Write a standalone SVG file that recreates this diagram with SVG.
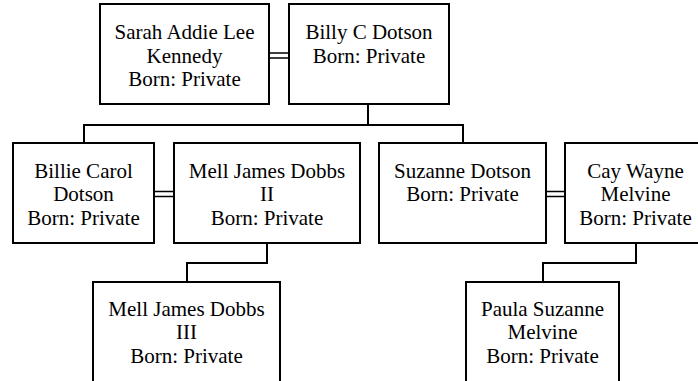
<svg xmlns="http://www.w3.org/2000/svg" width="698" height="381" viewBox="0 0 698 381">
<style>
.box{fill:#fff;stroke:#000;stroke-width:2}
.c{fill:none;stroke:#000;stroke-width:2}
.m{fill:none;stroke:#000;stroke-width:1.5}
text{font-family:"Liberation Serif","Times New Roman",serif;font-size:21px;fill:#000;text-anchor:middle}
</style>
<rect width="698" height="381" fill="#fff"/>
<g id="connectors">
<path class="m" d="M269 53H289M269 58H289"/>
<path class="m" d="M154 191.5H174M154 196.5H174"/>
<path class="m" d="M546 191.5H565M546 196.5H565"/>
<path class="c" d="M368 104V125M84 143V125H463V143"/>
<path class="c" d="M267 243V263H187V282"/>
<path class="c" d="M636 243V263H543V282"/>
</g>
<g id="sarah">
<rect class="box" x="100" y="4" width="169" height="100"/>
<text x="184.5" y="39">Sarah Addie Lee</text>
<text x="184.5" y="62.5">Kennedy</text>
<text x="184.5" y="86">Born: Private</text>
</g>
<g id="billy">
<rect class="box" x="289" y="4" width="160" height="100"/>
<text x="369" y="39">Billy C Dotson</text>
<text x="369" y="62.5">Born: Private</text>
</g>
<g id="billie">
<rect class="box" x="13" y="143" width="141" height="100"/>
<text x="83.5" y="177.5">Billie Carol</text>
<text x="83.5" y="201">Dotson</text>
<text x="83.5" y="224.5">Born: Private</text>
</g>
<g id="mell2">
<rect class="box" x="174" y="143" width="186" height="100"/>
<text x="267" y="177.5">Mell James Dobbs</text>
<text x="267" y="201">II</text>
<text x="267" y="224.5">Born: Private</text>
</g>
<g id="suzanne">
<rect class="box" x="379" y="143" width="167" height="100"/>
<text x="462.5" y="177.5">Suzanne Dotson</text>
<text x="462.5" y="201">Born: Private</text>
</g>
<g id="cay">
<rect class="box" x="565" y="143" width="141" height="100"/>
<text x="635.5" y="177.5">Cay Wayne</text>
<text x="635.5" y="201">Melvine</text>
<text x="635.5" y="224.5">Born: Private</text>
</g>
<g id="mell3">
<rect class="box" x="93" y="282" width="187" height="110"/>
<text x="186.5" y="315.5">Mell James Dobbs</text>
<text x="186.5" y="339">III</text>
<text x="186.5" y="362.5">Born: Private</text>
</g>
<g id="paula">
<rect class="box" x="466" y="282" width="153" height="110"/>
<text x="542.5" y="315.5">Paula Suzanne</text>
<text x="542.5" y="339">Melvine</text>
<text x="542.5" y="362.5">Born: Private</text>
</g>
</svg>
